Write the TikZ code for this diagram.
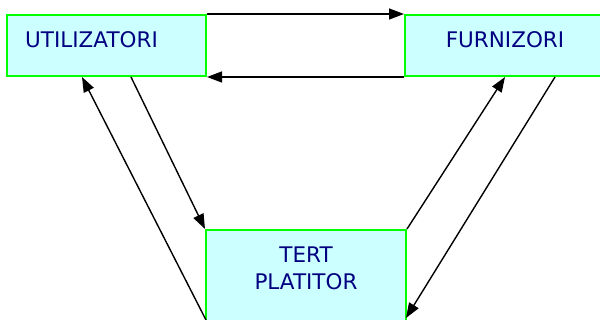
\documentclass[tikz,border=0pt]{standalone}
\usepackage{fontspec}
\setmainfont{DejaVu Sans}
\usetikzlibrary{arrows.meta}
\definecolor{boxfill}{HTML}{CCFFFF}
\definecolor{boxline}{HTML}{00FF00}
\definecolor{txtcol}{HTML}{000080}
\tikzset{
  box/.style={draw=boxline, fill=boxfill, line width=2pt, inner sep=0pt},
  lbl/.style={text=txtcol, inner sep=0pt, font=\fontsize{21.5}{27}\selectfont},
  conn/.style={line width=1.4pt, -{Triangle[length=15pt,width=11pt]}}
}
\begin{document}
\begin{tikzpicture}[x=1pt,y=-1pt]
\useasboundingbox (0,0) rectangle (600,320);
\clip (0,0) rectangle (600,320);
\node[box, minimum width=199pt, minimum height=61pt] (util) at (106.5,45.5) {};
\node[box, minimum width=210pt, minimum height=61pt] (furn) at (510,45.5) {};
\node[box, minimum width=200pt, minimum height=110pt] (tert) at (306,285) {};
\node[lbl, anchor=base west] (utilt) at (25,48) {UTILIZATORI};
\node[lbl, anchor=base] (furnt) at (505,48) {FURNIZORI};
\node[lbl, align=center, anchor=center] (tertt) at (306,268.5) {TERT\\PLATITOR};
% points on box edges
\coordinate (u1) at (util.south west -| 82,0);
\coordinate (u2) at (util.south west -| 131,0);
\coordinate (f1) at (furn.south west -| 505,0);
\coordinate (f2) at (furn.south west -| 555,0);
\coordinate (t1) at (206,320);
\coordinate (t2) at (406,318);
\draw[conn] (util.north east) -- (furn.north west);
\draw[conn] (furn.south west) -- (util.south east);
\draw[conn] (u2) -- (tert.north west);
\draw[conn] (t1) -- (u1);
\draw[conn] (tert.north east) -- (f1);
\draw[conn] (f2) -- (t2);
\end{tikzpicture}
\end{document}
